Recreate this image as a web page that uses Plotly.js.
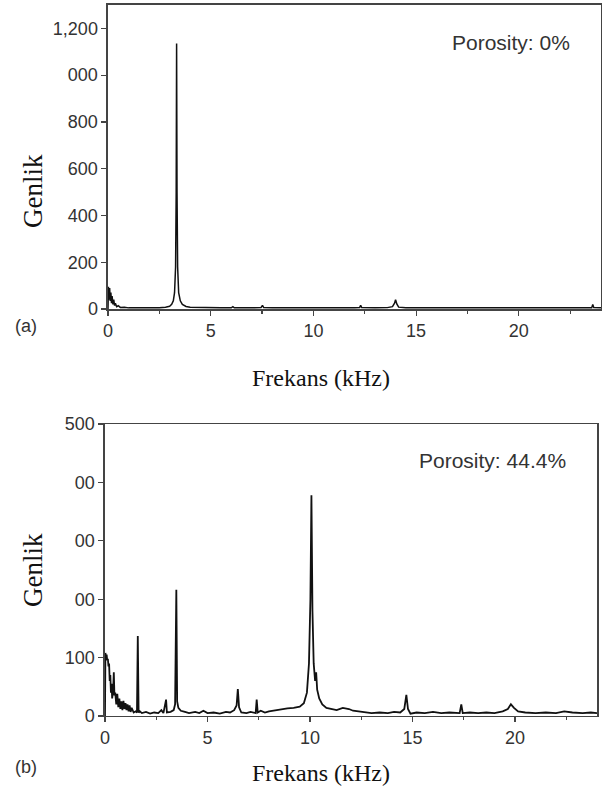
<!DOCTYPE html>
<html>
<head>
<meta charset="utf-8">
<script src="https://cdn.plot.ly/plotly-3.0.1.min.js"></script>
<style>html,body{margin:0;padding:0;background:#fff;}#chart{width:602px;height:793px;}</style>
</head>
<body>
<div id="chart"></div>
<script>
// Panel (a): Porosity 0%
const freqA = [0.00,0.02,0.05,0.08,0.11,0.14,0.17,0.20,0.24,0.28,0.32,0.36,0.42,0.50,0.60,0.80,1.00,1.50,2.00,2.50,2.80,3.00,3.10,3.18,3.24,3.29,3.32,3.34,3.36,3.39,3.44,3.52,3.62,3.80,4.00,4.50,5.00,5.50,6.00,6.08,6.15,7.00,7.45,7.52,7.58,8.00,9.00,10.00,11.00,12.00,12.25,12.30,12.35,13.00,13.60,13.85,13.95,14.00,14.06,14.15,14.50,15.00,16.00,17.00,18.00,19.00,20.00,21.00,22.00,23.00,23.55,23.60,23.65,24.00];
const ampA  = [0,95,40,90,35,70,25,55,20,40,15,25,10,14,7,8,5,5,4,6,8,12,20,35,70,180,500,1135,500,180,70,35,20,11,8,6,5,5,5,10,5,5,6,16,6,5,4,5,5,5,6,16,6,5,6,10,25,40,22,8,5,5,5,4,5,5,5,5,5,5,6,20,6,5];

// Panel (b): Porosity 44.4%
const freqB = [0.00,0.02,0.05,0.08,0.11,0.14,0.17,0.20,0.23,0.26,0.29,0.32,0.35,0.40,0.43,0.46,0.50,0.55,0.60,0.65,0.70,0.75,0.80,0.85,0.90,0.95,1.00,1.05,1.10,1.15,1.20,1.25,1.30,1.40,1.50,1.56,1.60,1.64,1.70,1.80,2.00,2.20,2.40,2.60,2.75,2.85,2.98,3.02,3.20,3.35,3.42,3.48,3.52,3.58,3.70,3.90,4.10,4.40,4.60,4.80,5.00,5.30,5.60,5.90,6.10,6.30,6.42,6.48,6.54,6.65,6.90,7.10,7.35,7.40,7.45,7.60,7.80,8.00,8.30,8.60,8.90,9.20,9.50,9.70,9.85,9.95,10.02,10.07,10.12,10.18,10.25,10.30,10.35,10.45,10.60,10.80,11.00,11.30,11.60,11.90,12.10,12.40,12.70,13.00,13.40,13.80,14.10,14.40,14.60,14.70,14.78,14.90,15.20,15.60,16.00,16.40,16.80,17.30,17.38,17.45,17.80,18.20,18.60,19.00,19.40,19.65,19.80,19.95,20.15,20.50,21.00,21.50,22.00,22.40,22.80,23.30,23.70,24.00];
const ampB  = [0,108,100,105,95,98,85,90,60,70,40,55,30,45,75,35,40,20,38,15,30,12,25,10,26,12,22,10,20,8,18,7,14,6,8,6,137,6,8,5,7,4,6,5,10,5,28,6,7,10,20,216,25,14,9,7,5,7,5,9,5,6,4,7,6,10,18,46,15,6,5,7,5,28,6,9,6,8,10,12,13,14,16,22,40,90,200,378,180,90,60,75,45,30,20,14,12,10,14,12,9,8,6,5,6,5,7,6,12,36,12,4,6,5,7,5,6,5,20,5,6,5,6,5,8,12,20,14,8,6,5,6,5,8,6,5,6,5];

const tickValsA = [0,200,400,600,800,1000,1200];
const tickTextA = ['0','200','400','600','800','000','1,200'];
const tickValsB = [0,100,200,300,400,500];
const tickTextB = ['0','100','00','00','00','500'];
const xTickVals = [0,5,10,15,20];
const xTickText = ['0','5','10','15','20'];

const tickFont = {family: 'Liberation Sans, Arial, sans-serif', size: 18, color: '#333'};
const serif = {family: 'Liberation Serif, Times New Roman, serif', size: 24, color: '#111'};
const serifBig = {family: 'Liberation Serif, Times New Roman, serif', size: 27, color: '#111'};
const lineCol = '#444';

function xax(domain, anchor) {
  return {domain: domain, anchor: anchor, range: [0, 24], showgrid: false, zeroline: false,
    showline: true, linecolor: lineCol, linewidth: 1.5, mirror: true,
    ticks: 'outside', ticklen: 5, tickwidth: 1.2, tickcolor: lineCol,
    tickvals: xTickVals, ticktext: xTickText, tickfont: tickFont,
    minor: {dtick: 2.5, tick0: 0, ticks: 'outside', ticklen: 3, tickcolor: lineCol, showgrid: false}};
}
function yax(domain, anchor, range, vals, text) {
  return {domain: domain, anchor: anchor, range: range, showgrid: false, zeroline: false,
    showline: true, linecolor: lineCol, linewidth: 1.5, mirror: true,
    ticks: 'outside', ticklen: 5, tickwidth: 1.2, tickcolor: lineCol,
    tickvals: vals, ticktext: text, tickfont: tickFont};
}

const data = [
  {x: freqA, y: ampA, type: 'scatter', mode: 'lines', line: {color: '#111', width: 1.5}, xaxis: 'x', yaxis: 'y', hoverinfo: 'none'},
  {x: freqB, y: ampB, type: 'scatter', mode: 'lines', line: {color: '#111', width: 1.8}, xaxis: 'x2', yaxis: 'y2', hoverinfo: 'none'}
];

const layout = {
  width: 602, height: 793,
  margin: {l: 0, r: 0, t: 0, b: 0},
  paper_bgcolor: '#fff', plot_bgcolor: '#fff',
  showlegend: false,
  xaxis: xax([0.1794, 0.9983], 'y'),
  yaxis: yax([0.6103, 0.9937], 'x', [0, 1300], tickValsA, tickTextA),
  xaxis2: xax([0.1744, 0.9917], 'y2'),
  yaxis2: yax([0.0971, 0.4653], 'x2', [0, 500], tickValsB, tickTextB),
  annotations: [
    {text: 'Porosity: 0%', x: 572/602, y: (793-42)/793, xref: 'paper', yref: 'paper', xanchor: 'right', yanchor: 'middle', showarrow: false, font: {family: 'Liberation Sans, Arial, sans-serif', size: 21, color: '#333'}},
    {text: 'Porosity: 44.4%', x: 568/602, y: (793-461)/793, xref: 'paper', yref: 'paper', xanchor: 'right', yanchor: 'middle', showarrow: false, font: {family: 'Liberation Sans, Arial, sans-serif', size: 21, color: '#333'}},
    {text: 'Genlik', x: 33/602, y: (793-191)/793, xref: 'paper', yref: 'paper', xanchor: 'center', yanchor: 'middle', textangle: -90, showarrow: false, font: serifBig},
    {text: 'Genlik', x: 33/602, y: (793-570)/793, xref: 'paper', yref: 'paper', xanchor: 'center', yanchor: 'middle', textangle: -90, showarrow: false, font: serifBig},
    {text: 'Frekans (kHz)', x: 321/602, y: (793-378)/793, xref: 'paper', yref: 'paper', xanchor: 'center', yanchor: 'middle', showarrow: false, font: serif},
    {text: 'Frekans (kHz)', x: 321/602, y: (793-773)/793, xref: 'paper', yref: 'paper', xanchor: 'center', yanchor: 'middle', showarrow: false, font: serif},
    {text: '(a)', x: 26/602, y: (793-326)/793, xref: 'paper', yref: 'paper', xanchor: 'center', yanchor: 'middle', showarrow: false, font: {family: 'Liberation Sans, Arial, sans-serif', size: 18, color: '#333'}},
    {text: '(b)', x: 26/602, y: (793-767)/793, xref: 'paper', yref: 'paper', xanchor: 'center', yanchor: 'middle', showarrow: false, font: {family: 'Liberation Sans, Arial, sans-serif', size: 18, color: '#333'}}
  ]
};

Plotly.newPlot('chart', data, layout, {staticPlot: true, displayModeBar: false});
</script>
</body>
</html>
